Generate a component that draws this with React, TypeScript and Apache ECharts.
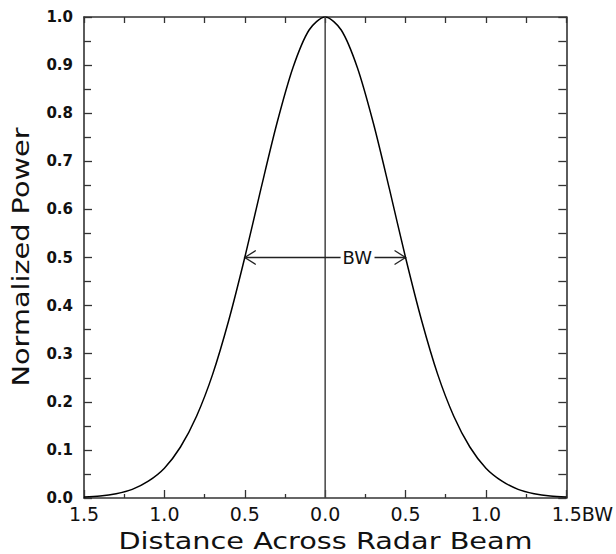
import React, { useEffect, useRef } from "react";
import * as echarts from "echarts";

// Beam pattern (distance in beamwidths, normalized power)
const distance = [
  -1.5, -1.4, -1.3, -1.2, -1.1, -1.0, -0.9, -0.8, -0.7, -0.6, -0.5, -0.4, -0.3, -0.2, -0.1, 0.0,
  0.1, 0.2, 0.3, 0.4, 0.5, 0.6, 0.7, 0.8, 0.9, 1.0, 1.1, 1.2, 1.3, 1.4, 1.5,
];
const power = [
  0.002, 0.004, 0.009, 0.018, 0.035, 0.062, 0.106, 0.17, 0.257, 0.369, 0.5, 0.642, 0.779, 0.895, 0.973, 1.0,
  0.973, 0.895, 0.779, 0.642, 0.5, 0.369, 0.257, 0.17, 0.106, 0.062, 0.035, 0.018, 0.009, 0.004, 0.002,
];

// Centre line
const centreX = [0, 0];
const centreY = [0, 1];

// Beamwidth annotation
const bwLeftX = [-0.5, 0.096];
const bwRightX = [0.307, 0.5];
const bwLevel = 0.5;
const bwArrowX = [-0.5, 0.5];
const bwArrowDir = [-1, 1];
const bwLabelX = 0.2;
const bwLabel = "BW";

// Axis texts
const xTitle = "Distance Across Radar Beam";
const yTitle = "Normalized Power";
const xUnit = "BW";

const FONT = "DejaVu Sans";
const INK = "#111";
const AXIS = "#333";

export default function App() {
  const ref = useRef<HTMLDivElement>(null);
  useEffect(() => {
    if (!ref.current) return;
    const chart = echarts.init(ref.current, null, { renderer: "svg" });
    const curve = distance.map((x, i) => [x, power[i]]);
    const centre = centreX.map((x, i) => [x, centreY[i]]);
    const left = bwLeftX.map((x) => [x, bwLevel]);
    const right = bwRightX.map((x) => [x, bwLevel]);
    const arrows = bwArrowX.map((x, i) => [x, bwLevel, bwArrowDir[i]]);

    const axisLine = { show: true, onZero: false, lineStyle: { color: AXIS, width: 1.6 } };
    chart.setOption({
      animation: false,
      grid: { left: 84, right: 49, top: 17, bottom: 56 },
      xAxis: [
        {
          type: "value",
          min: -1.5,
          max: 1.5,
          interval: 0.5,
          position: "bottom",
          axisLine,
          axisTick: { show: true, inside: true, length: 8, lineStyle: { color: AXIS, width: 1.3 } },
          minorTick: { show: true, splitNumber: 2, length: 4, lineStyle: { color: AXIS, width: 1.3 } },
          splitLine: { show: false },
          axisLabel: {
            margin: 6,
            color: INK,
            fontFamily: FONT,
            fontSize: 19,
            formatter: (v: number) =>
              Math.abs(v - 1.5) < 1e-9
                ? "{pad|}" + Math.abs(v).toFixed(1) + "{u|" + xUnit + "}"
                : Math.abs(v).toFixed(1),
            rich: {
              pad: { width: 32, fontSize: 19, fontFamily: FONT },
              u: { fontSize: 19, fontFamily: FONT, color: INK },
            },
          },
        },
        {
          type: "value",
          min: -1.5,
          max: 1.5,
          interval: 0.25,
          position: "top",
          axisLine,
          axisTick: { show: true, inside: true, length: 6, lineStyle: { color: AXIS, width: 1.3 } },
          splitLine: { show: false },
          axisLabel: { show: false },
        },
      ],
      yAxis: [
        {
          type: "value",
          min: 0,
          max: 1,
          interval: 0.1,
          position: "left",
          axisLine,
          axisTick: { show: true, inside: true, length: 8, lineStyle: { color: AXIS, width: 1.3 } },
          minorTick: { show: true, splitNumber: 2, length: 7, lineStyle: { color: AXIS, width: 1.3 } },
          splitLine: { show: false },
          axisLabel: {
            margin: 11,
            color: INK,
            fontFamily: FONT,
            fontSize: 15,
            fontWeight: "bold",
            formatter: (v: number) => v.toFixed(1),
          },
        },
        {
          type: "value",
          min: 0,
          max: 1,
          interval: 0.05,
          position: "right",
          axisLine,
          axisTick: { show: true, inside: true, length: 8, lineStyle: { color: AXIS, width: 1.3 } },
          splitLine: { show: false },
          axisLabel: { show: false },
        },
      ],
      graphic: [
        {
          type: "text",
          x: 325.5,
          y: 541,
          scaleX: 1.25,
          style: {
            text: xTitle,
            fontFamily: FONT,
            fontSize: 23,
            fill: INK,
            align: "center",
            verticalAlign: "middle",
            textAlign: "center",
            textVerticalAlign: "middle",
          },
        },
        {
          type: "text",
          x: 21,
          y: 257,
          rotation: Math.PI / 2,
          scaleX: 1.25,
          style: {
            text: yTitle,
            fontFamily: FONT,
            fontSize: 23,
            fill: INK,
            align: "center",
            verticalAlign: "middle",
            textAlign: "center",
            textVerticalAlign: "middle",
          },
        },
      ],
      series: [
        {
          type: "line",
          data: curve,
          showSymbol: false,
          smooth: 0.3,
          lineStyle: { color: "#000", width: 1.5 },
          silent: true,
        },
        {
          type: "line",
          data: centre,
          showSymbol: false,
          lineStyle: { color: "#444", width: 1.5 },
          silent: true,
        },
        {
          type: "line",
          data: left,
          showSymbol: false,
          lineStyle: { color: "#222", width: 1.3 },
          silent: true,
        },
        {
          type: "line",
          data: right,
          showSymbol: false,
          lineStyle: { color: "#222", width: 1.3 },
          silent: true,
        },
        {
          type: "custom",
          data: arrows,
          silent: true,
          renderItem: (params: any, api: any) => {
            const p = api.coord([api.value(0), api.value(1)]);
            const d = api.value(2);
            return {
              type: "polyline",
              shape: {
                points: [
                  [p[0] - d * 11, p[1] - 7],
                  [p[0], p[1]],
                  [p[0] - d * 11, p[1] + 7],
                ],
              },
              style: { stroke: "#222", lineWidth: 1.3, fill: "none" },
            };
          },
        },
        {
          type: "custom",
          data: [[bwLabelX, bwLevel]],
          silent: true,
          renderItem: (params: any, api: any) => {
            const p = api.coord([api.value(0), api.value(1)]);
            return {
              type: "text",
              x: p[0],
              y: p[1],
              style: {
                text: bwLabel,
                fontFamily: FONT,
                fontSize: 18,
                fill: INK,
                align: "center",
                verticalAlign: "middle",
              },
            };
          },
        },
      ],
    });
    return () => chart.dispose();
  }, []);
  return (
    <div
      ref={ref}
      style={{ position: "absolute", left: 0, top: 0, width: 616, height: 554, background: "#fff" }}
    />
  );
}
